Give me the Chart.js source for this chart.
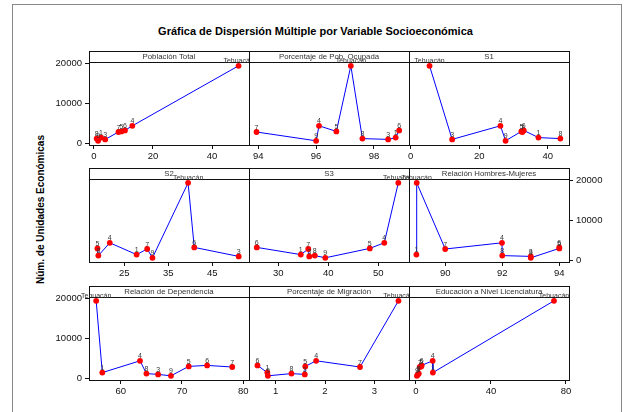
<!DOCTYPE html>
<html>
<head>
<meta charset="utf-8">
<script src="https://cdn.jsdelivr.net/npm/chart.js@4.4.1/dist/chart.umd.min.js"></script>
<style>
  body { margin: 0; background: #fff; }
  #wrap { position: relative; width: 631px; height: 412px; overflow: hidden; }
  #wrap canvas { position: absolute; left: 0; top: 0; }
  #frame { position: absolute; left: 12px; top: 4px; width: 608px; height: 430px; border: 1px solid #888; }
  #title { position: absolute; left: 0; top: 25px; width: 631px; line-height: 14px; text-align: center;
           font: bold 11px "Liberation Sans", Arial, sans-serif; color: #000; }
  #ytitle { position: absolute; left: -60px; top: 204px; width: 200px; line-height: 14px; text-align: center;
            font: bold 10px "Liberation Sans", Arial, sans-serif; color: #000; transform: rotate(-90deg); }
</style>
</head>
<body>
<div id="wrap">
  <div id="frame"></div>
  <div id="title">Gráfica de Dispersión Múltiple por Variable Socioeconómica</div>
  <div id="ytitle">Núm. de Unidades Económicas</div>
</div>
<script>
// municipios (Tehuacán = 2) y número de unidades económicas
const municipios = ["Tehuacán", "1", "3", "4", "5", "6", "7", "8", "9"];
const unidades = [19400, 1450, 1000, 4400, 3000, 3250, 2850, 1200, 650];

// variable socioeconómica por panel, en el mismo orden que municipios
const poblacionTotal = [49.0, 2.4, 3.8, 13.0, 9.3, 10.5, 8.3, 0.9, 1.4];
const pobOcupada     = [97.2, 98.75, 98.49, 96.1, 96.7, 98.87, 93.94, 97.6, 96.0];
const s1             = [5.5, 37.3, 12.1, 26.2, 32.3, 33.0, 32.6, 43.7, 27.7];
const s2             = [39.5, 27.8, 51.0, 21.7, 18.9, 40.9, 30.2, 19.1, 31.4];
const s3             = [54.0, 34.5, 36.2, 51.2, 48.3, 25.7, 36.0, 37.3, 39.4];
const relHombresMuj  = [89.0, 88.99, 93.0, 91.99, 94.0, 94.0, 90.0, 92.0, 93.0];
const relDependencia = [56.0, 57.0, 66.1, 63.15, 71.1, 74.1, 78.2, 64.2, 68.2];
const migracion      = [3.49, 0.83, 1.59, 1.82, 1.60, 0.63, 2.71, 1.32, 0.84];
const licenciatura   = [73.6, 9.0, 1.0, 8.9, 2.8, 3.0, 2.0, 1.5, 0.5];

const panelTitles = ["Población Total", "Porcentaje de Pob. Ocupada", "S1",
                     "S2", "S3", "Relación Hombres-Mujeres",
                     "Relación de Dependencia", "Porcentaje de Migración", "Educación a Nivel Licenciatura"];
const xSeries = [poblacionTotal, pobOcupada, s1, s2, s3, relHombresMuj, relDependencia, migracion, licenciatura];
const xTicks = [[0, 20, 40], [94, 96, 98], [0, 20, 40],
                [25, 35, 45], [30, 40, 50], [90, 92, 94],
                [60, 70, 80], [1, 2, 3], [0, 40, 80]];
const yTicks = [0, 10000, 20000];

// axis ranges and panel grid
const xRanges = [[-1.69, 52.54], [93.68, 99.21], [-0.5, 46.22],
                 [16.98, 53.34], [24.14, 56.14], [88.73, 94.34],
                 [54.83, 80.93], [0.458, 3.704], [-3.73, 81.6]];
const yMin = -400, yMax = 23100;
const colLeft = [89, 249, 409], panelW = 160;
const rowTop = [51, 168, 286], panelH = 94;
const stripH = 11;
const W = 631, H = 412, axisW = 50, axisH = 20;

const panelPlugin = {
  id: "panel",
  beforeDatasetsDraw(chart) {
    const { ctx, chartArea: a } = chart;
    ctx.save();
    ctx.fillStyle = "#fff";
    ctx.fillRect(a.left, a.top, a.right - a.left, stripH);
    ctx.strokeStyle = "#111";
    ctx.lineWidth = 1;
    ctx.beginPath();
    ctx.moveTo(a.left, a.top + stripH + 0.5);
    ctx.lineTo(a.right, a.top + stripH + 0.5);
    ctx.stroke();
    ctx.font = '7.8px "Liberation Sans"';
    ctx.fillStyle = "#333";
    ctx.textAlign = "center";
    ctx.textBaseline = "middle";
    ctx.fillText(chart.options.plugins.panel.title, (a.left + a.right) / 2, a.top + stripH / 2 + 0.5);
    ctx.restore();
  },
  afterDatasetsDraw(chart) {
    const ctx = chart.ctx;
    const meta = chart.getDatasetMeta(0);
    const data = chart.data.datasets[0].data;
    ctx.save();
    ctx.font = '7px "Liberation Sans"';
    ctx.fillStyle = "#333";
    ctx.textAlign = "center";
    ctx.textBaseline = "alphabetic";
    meta.data.forEach((pt, k) => ctx.fillText(data[k].label, pt.x, pt.y - 2.5));
    ctx.restore();
  },
  afterDraw(chart) {
    const { ctx, chartArea: a } = chart;
    ctx.save();
    ctx.strokeStyle = "#111";
    ctx.lineWidth = 1;
    ctx.strokeRect(a.left + 0.5, a.top + 0.5, a.right - a.left, a.bottom - a.top);
    ctx.restore();
  }
};

const wrap = document.getElementById("wrap");
const tickFont = { family: "Liberation Sans", size: 9.5 };

xSeries.forEach((xs, i) => {
  const r = Math.floor(i / 3), c = i % 3;
  const left = colLeft[c], top = rowTop[r];
  const right = left + panelW, bottom = top + panelH;
  const yOnLeft = c === 0 && r !== 1;
  const yOnRight = c === 2 && r === 1;
  const yShown = yOnLeft || yOnRight;

  const points = municipios
    .map((m, k) => ({ x: xs[k], y: unidades[k], label: m }))
    .sort((p, q) => p.x - q.x);

  const canvas = document.createElement("canvas");
  canvas.width = W;
  canvas.height = H;
  wrap.appendChild(canvas);

  new Chart(canvas.getContext("2d"), {
    type: "scatter",
    data: {
      datasets: [{
        data: points,
        showLine: true,
        borderColor: "#0000ff",
        borderWidth: 1,
        pointRadius: 2.9,
        pointHoverRadius: 2.9,
        pointBackgroundColor: "#ff0000",
        pointBorderColor: "#ff0000",
        pointBorderWidth: 0
      }]
    },
    options: {
      responsive: false,
      animation: false,
      events: [],
      layout: {
        autoPadding: false,
        padding: {
          left: yOnLeft ? left - axisW : left,
          right: yOnRight ? W - right - axisW : W - right,
          top: top,
          bottom: H - bottom - axisH
        }
      },
      scales: {
        x: {
          type: "linear",
          min: xRanges[i][0],
          max: xRanges[i][1],
          afterBuildTicks: s => { s.ticks = xTicks[i].map(v => ({ value: v })); },
          afterFit: s => { s.height = axisH; },
          ticks: { font: tickFont, color: "#111", padding: 2, maxRotation: 0, autoSkip: false,
                   callback: v => String(v) },
          grid: { drawOnChartArea: false, drawTicks: true, tickLength: 4, color: "#111" },
          border: { display: false }
        },
        y: {
          type: "linear",
          display: yShown,
          position: yOnRight ? "right" : "left",
          min: yMin,
          max: yMax,
          afterBuildTicks: s => { s.ticks = yTicks.map(v => ({ value: v })); },
          afterFit: s => { s.width = yShown ? axisW : 0; },
          ticks: { font: tickFont, color: "#111", padding: 3, callback: v => String(v) },
          grid: { drawOnChartArea: false, drawTicks: true, tickLength: 4, color: "#111" },
          border: { display: false }
        }
      },
      plugins: {
        legend: { display: false },
        tooltip: { enabled: false },
        panel: { title: panelTitles[i] }
      }
    },
    plugins: [panelPlugin]
  });
});
</script>
</body>
</html>
